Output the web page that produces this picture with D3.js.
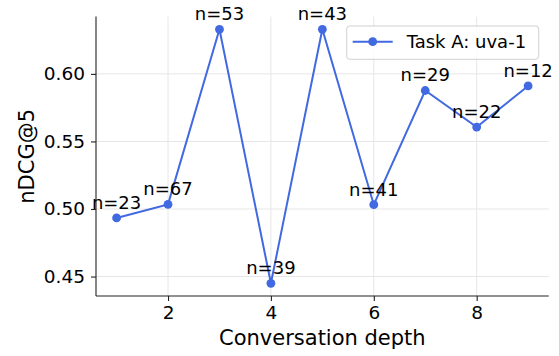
<!DOCTYPE html>
<html>
<head>
<meta charset="utf-8">
<script src="https://cdn.jsdelivr.net/npm/d3@7"></script>
<style>
  body { margin: 0; background: #fff; }
  svg { font-family: "DejaVu Sans", sans-serif; }
</style>
</head>
<body>
<div id="vis"></div>
<script>
// Data
const depths = [1, 2, 3, 4, 5, 6, 7, 8, 9];
const ndcg = [0.4934, 0.5034, 0.633, 0.445, 0.633, 0.5032, 0.5877, 0.5606, 0.5911];
const counts = [23, 67, 53, 39, 43, 41, 29, 22, 12];
const xTicks = [2, 4, 6, 8];
const yTicks = [0.45, 0.50, 0.55, 0.60];
const seriesName = "Task A: uva-1";

const W = 559, H = 356;
const margin = { top: 16.6, right: 10.3, bottom: 60, left: 96 };
const width = W - margin.left - margin.right;
const height = H - margin.top - margin.bottom;
const color = "#4169e1";

const svg = d3.select("#vis")
  .append("svg")
  .attr("width", W)
  .attr("height", H);

const g = svg.append("g")
  .attr("transform", `translate(${margin.left},${margin.top})`);

// matplotlib style 5% padding
const xExt = d3.extent(depths);
const xPad = (xExt[1] - xExt[0]) * 0.05;
const yExt = d3.extent(ndcg);
const yPad = (yExt[1] - yExt[0]) * 0.05;

const x = d3.scaleLinear().domain([xExt[0] - xPad, xExt[1] + xPad]).range([0, width]);
const y = d3.scaleLinear().domain([yExt[0] - yPad, yExt[1] + yPad]).range([height, 0]);

// grid
g.append("g")
  .selectAll("line")
  .data(xTicks)
  .join("line")
  .attr("x1", d => x(d)).attr("x2", d => x(d))
  .attr("y1", 0).attr("y2", height)
  .attr("stroke", "#e6e6e6").attr("stroke-width", 1);

g.append("g")
  .selectAll("line")
  .data(yTicks)
  .join("line")
  .attr("x1", 0).attr("x2", width)
  .attr("y1", d => y(d)).attr("y2", d => y(d))
  .attr("stroke", "#e6e6e6").attr("stroke-width", 1);

// axes
const xAxis = g.append("g")
  .attr("transform", `translate(0,${height})`)
  .call(d3.axisBottom(x).tickValues(xTicks).tickSize(5).tickPadding(5).tickFormat(d3.format("d")));
const yAxis = g.append("g")
  .call(d3.axisLeft(y).tickValues(yTicks).tickSize(5).tickPadding(6).tickFormat(d3.format(".2f")));

[xAxis, yAxis].forEach(a => {
  a.select(".domain").attr("stroke", "#222").attr("stroke-width", 1.1);
  a.selectAll(".tick line").attr("stroke", "#222").attr("stroke-width", 1.1);
  a.selectAll(".tick text")
    .attr("fill", "#000")
    .style("font-size", "18.5px")
    .style("font-family", "DejaVu Sans");
});
// no outer tick stubs on the spines
xAxis.select(".domain").attr("d", `M0,0H${width}`);
yAxis.select(".domain").attr("d", `M0,0V${height}`);

// axis labels
svg.append("text")
  .attr("x", margin.left + width / 2)
  .attr("y", 345)
  .attr("text-anchor", "middle")
  .style("font-size", "21px")
  .text("Conversation depth");

svg.append("text")
  .attr("transform", `translate(34,${margin.top + height / 2}) rotate(-90)`)
  .attr("text-anchor", "middle")
  .style("font-size", "21px")
  .text("nDCG@5");

// line + markers
const pts = depths.map((d, i) => ({ depth: d, value: ndcg[i], n: counts[i] }));

g.append("path")
  .datum(pts)
  .attr("fill", "none")
  .attr("stroke", color)
  .attr("stroke-width", 2)
  .attr("d", d3.line().x(d => x(d.depth)).y(d => y(d.value)));

g.selectAll(".pt")
  .data(pts)
  .join("circle")
  .attr("class", "pt")
  .attr("cx", d => x(d.depth))
  .attr("cy", d => y(d.value))
  .attr("r", 4.4)
  .attr("fill", color);

g.selectAll(".ann")
  .data(pts)
  .join("text")
  .attr("class", "ann")
  .attr("x", d => x(d.depth))
  .attr("y", d => y(d.value) - 9)
  .attr("text-anchor", "middle")
  .style("font-size", "18px")
  .text(d => `n=${d.n}`);

// legend
const lg = svg.append("g").attr("transform", "translate(346.7,26)");
lg.append("rect")
  .attr("width", 192)
  .attr("height", 33.3)
  .attr("rx", 3)
  .attr("fill", "#fff")
  .attr("fill-opacity", 0.8)
  .attr("stroke", "#d0d0d0");
lg.append("line")
  .attr("x1", 6).attr("x2", 46)
  .attr("y1", 15.7).attr("y2", 15.7)
  .attr("stroke", color).attr("stroke-width", 2);
lg.append("circle")
  .attr("cx", 26).attr("cy", 15.7).attr("r", 4.4)
  .attr("fill", color);
lg.append("text")
  .attr("x", 60)
  .attr("y", 22)
  .style("font-size", "18px")
  .text(seriesName);
</script>
</body>
</html>
